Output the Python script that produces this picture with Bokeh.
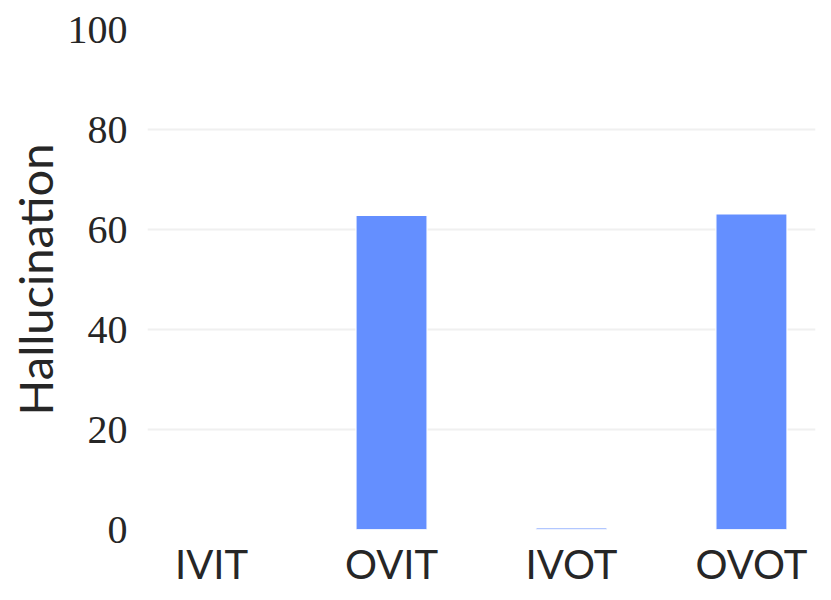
from bokeh.plotting import figure
from bokeh.models import FactorRange, Range1d, FixedTicker, ColumnDataSource
from bokeh.embed import file_html
from bokeh.resources import INLINE

categories = ["IVIT", "OVIT", "IVOT", "OVOT"]
hallucination = [0.0, 62.8, 0.3, 63.1]
y_ticks = [0, 20, 40, 60, 80, 100]
grid_ticks = [20, 40, 60, 80]

src = ColumnDataSource(dict(cat=categories, val=hallucination))

p = figure(width=823, height=590, output_backend="svg", toolbar_location=None,
           x_range=FactorRange(*categories, range_padding=-0.072, range_padding_units="percent"),
           y_range=Range1d(0, 100),
           min_border_left=147, min_border_right=8, min_border_top=29, min_border_bottom=10)
p.outline_line_color = None
p.background_fill_color = "white"

p.vbar(x="cat", top="val", source=src, width=0.395, fill_color="#648FFF",
       line_color="white", line_width=1.2)

p.xgrid.grid_line_color = None
p.ygrid.ticker = FixedTicker(ticks=grid_ticks)
p.ygrid.grid_line_color = "#F0F0F0"
p.ygrid.grid_line_width = 2

p.yaxis.ticker = FixedTicker(ticks=y_ticks)
for ax in (p.xaxis[0], p.yaxis[0]):
    ax.axis_line_color = None
    ax.major_tick_line_color = None
    ax.minor_tick_line_color = None
    ax.major_tick_out = 0
    ax.major_tick_in = 0

p.yaxis.major_label_text_font = "Liberation Serif"
p.yaxis.major_label_text_font_size = "40px"
p.yaxis.major_label_text_color = "#262626"
p.yaxis.major_label_standoff = 20
p.yaxis.axis_label = "Hallucination"
p.yaxis.axis_label_text_font = "Lato"
p.yaxis.axis_label_text_font_style = "normal"
p.yaxis.axis_label_text_font_size = "47px"
p.yaxis.axis_label_text_color = "#262626"
p.yaxis.axis_label_standoff = 2

p.xaxis.major_label_text_font = "Lato"
p.xaxis.major_label_text_font_size = "40px"
p.xaxis.major_label_text_color = "#262626"
p.xaxis.major_label_standoff = 10

open("out.html", "w").write(file_html(p, INLINE))
